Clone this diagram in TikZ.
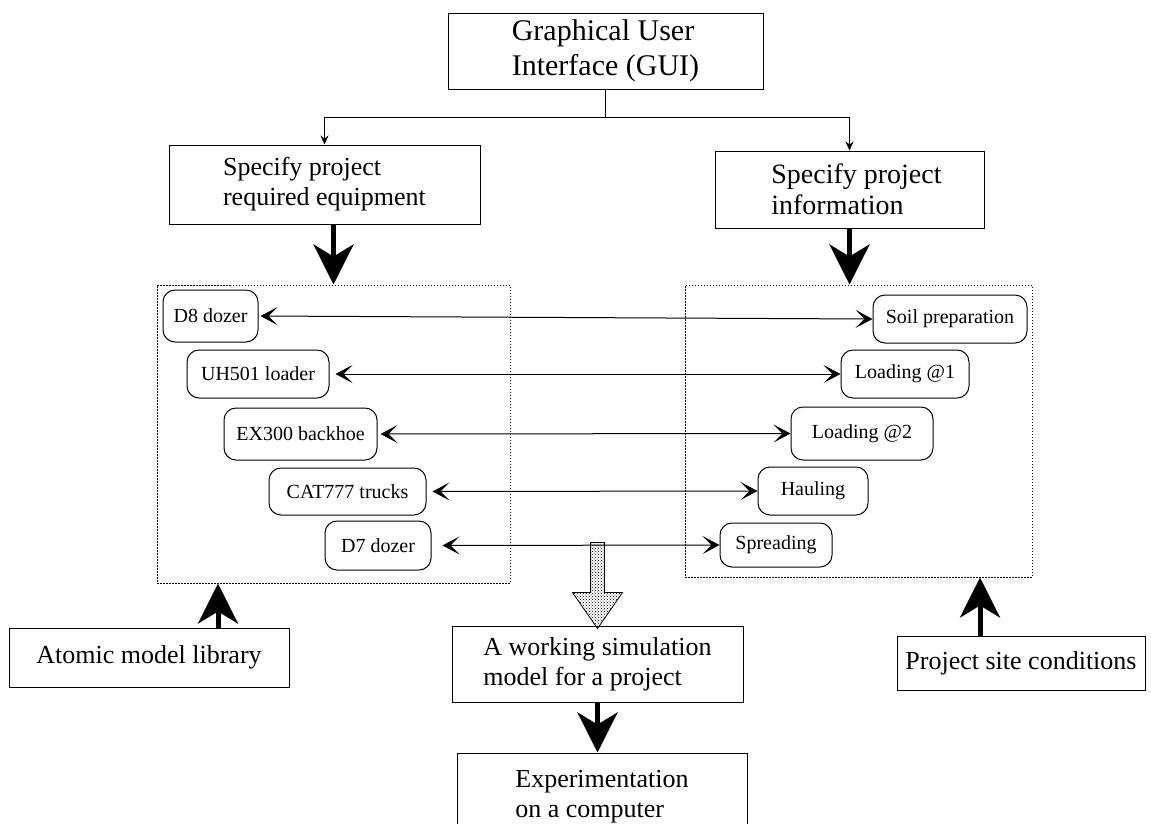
\documentclass[tikz,border=0pt]{standalone}
\usepackage{fontspec}
\setmainfont{Liberation Serif}
\usetikzlibrary{arrows.meta, calc, patterns}
\tikzset{
  box/.style={draw, line width=1pt, align=left, inner sep=0pt},
  item/.style={draw, rounded corners=12pt, line width=1pt, inner sep=0pt, font=\fontsize{20}{23}\selectfont},
  frame/.style={draw, line width=1pt, dash pattern=on 1.5pt off 1.5pt, inner sep=0pt},
  link/.style={{Stealth[length=17pt,width=18pt,inset=9pt]}-{Stealth[length=17pt,width=18pt,inset=9pt]}, line width=1pt},
  feed/.style={-{Stealth[length=9pt,width=8pt,inset=3pt]}, line width=1pt},
  fat/.style={-{Stealth[length=40pt,width=40pt,inset=12pt]}, line width=5pt},
}
\begin{document}
\begin{tikzpicture}[x=1pt,y=-1pt]
\useasboundingbox (0,0) rectangle (1151,823);
% user interface and the two inputs
\node[box, minimum width=315pt, minimum height=76pt, font=\fontsize{30}{35}\selectfont] (gui) at (605.5,51) {Graphical User\\Interface (GUI)};
\node[box, minimum width=311pt, minimum height=79pt, font=\fontsize{26}{30}\selectfont] (equip) at (324.5,184.5) {Specify project\\required equipment};
\node[box, minimum width=269pt, minimum height=77pt, font=\fontsize{28}{31}\selectfont] (info) at (849.5,189.5) {\hspace*{14pt}Specify project\\\hspace*{14pt}information};
\draw[feed] (gui.south) -- ++(0,28) -| (equip.north);
\draw[feed] (gui.south) -- ++(0,28) -| (info.north);

% equipment and activities
\node[frame, minimum width=353pt, minimum height=298pt] (equipFrame) at (333.5,434) {};
\node[frame, minimum width=347pt, minimum height=292pt] (infoFrame) at (858.5,431) {};
\draw[fat] (equipFrame.north |- equip.south) -- (equipFrame.north);
\draw[fat] (info.south) -- (info.south |- infoFrame.north);

\node[item, minimum width=95pt, minimum height=52pt] (d8) at (210.5,316) {D8 dozer};
\node[item, minimum width=142pt, minimum height=48pt] (uh501) at (258,374) {UH501 loader};
\node[item, minimum width=153pt, minimum height=52pt] (ex300) at (300.5,434) {EX300 backhoe};
\node[item, minimum width=157pt, minimum height=47pt] (cat777) at (347.5,491.5) {CAT777 trucks};
\node[item, minimum width=106pt, minimum height=49pt] (d7) at (378,545.5) {D7 dozer};

\node[item, minimum width=154pt, minimum height=48pt] (soil) at (950,319) {Soil preparation};
\node[item, minimum width=128pt, minimum height=48pt] (load1) at (905,374) {Loading @1};
\node[item, minimum width=142pt, minimum height=53pt] (load2) at (862,433.5) {Loading @2};
\node[item, minimum width=110pt, minimum height=48pt] (haul) at (813,491) {Hauling};
\node[item, minimum width=112pt, minimum height=44pt] (spread) at (776,545) {Spreading};

\draw[link, shorten <=2pt] (d8.east) -- (soil.west);
\draw[link, shorten <=6pt] (uh501.east) -- (load1.west);
\draw[link, shorten <=3pt] (ex300.east) -- (load2.west);
\draw[link, shorten <=6pt] (cat777.east) -- (haul.west);
\draw[link, shorten <=11pt] (d7.east) -- (spread.west);

% libraries below
\node[box, minimum width=280pt, minimum height=59pt, font=\fontsize{26}{30}\selectfont] (atomic) at (149,657.5) {Atomic model library};
\node[box, minimum width=248pt, minimum height=54pt, font=\fontsize{26}{30}\selectfont] (site) at (1021,663) {Project site conditions};
\draw[fat] ([xshift=69pt]atomic.north) -- ([xshift=69pt]atomic.north |- equipFrame.south);
\draw[fat] ([xshift=-41pt]site.north) -- ([xshift=-41pt]site.north |- infoFrame.south);

% resulting model
\node[box, minimum width=291pt, minimum height=76pt, font=\fontsize{26}{30}\selectfont] (work) at (597.5,664) {A working simulation\\model for a project};
\node[box, minimum width=290pt, minimum height=88pt, font=\fontsize{26}{30}\selectfont] (exper) at (602,797) {Experimentation\\on a computer};
\draw[line width=0.8pt, pattern=crosshatch dots, pattern color=black]
  ([yshift=-3pt]work.north) -- ++(-25,-36) -- ++(18,0) -- ++(0,-50) -- ++(14,0) -- ++(0,50) -- ++(18,0) -- cycle;
\draw[fat] (work.south) -- (work.south |- exper.north);
\end{tikzpicture}
\end{document}
